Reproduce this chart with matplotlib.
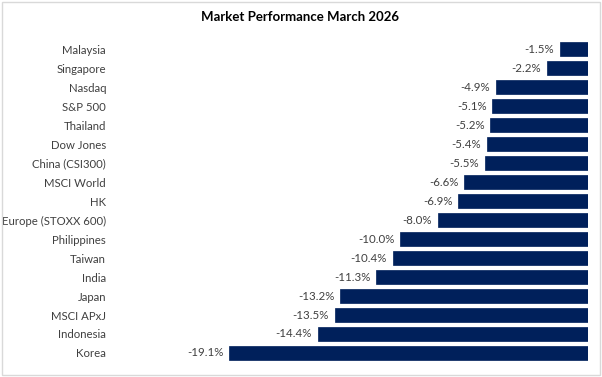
import matplotlib
matplotlib.use("Agg")
import matplotlib.pyplot as plt
from matplotlib.patches import Rectangle

markets = ["Malaysia", "Singapore", "Nasdaq", "S&P 500", "Thailand", "Dow Jones",
           "China (CSI300)", "MSCI World", "HK", "Europe (STOXX 600)", "Philippines",
           "Taiwan", "India", "Japan", "MSCI APxJ", "Indonesia", "Korea"]
returns = [-1.5, -2.2, -4.9, -5.1, -5.2, -5.4, -5.5, -6.6, -6.9, -8.0, -10.0,
           -10.4, -11.3, -13.2, -13.5, -14.4, -19.1]
title = "Market Performance March 2026"

plt.rcParams['font.family'] = ['Lato', 'DejaVu Sans']

fig = plt.figure(figsize=(6.02, 3.77), dpi=100)
fig.patches.append(Rectangle((0.003, 0.004), 0.994, 0.99, transform=fig.transFigure,
                             fill=False, edgecolor="#d9d9d9", linewidth=1.0))
ax = fig.add_axes([0.1877, 0.0385, 0.789, 0.8565])

y = list(range(len(markets)))
ax.barh(y, returns, height=0.73, color="#00205B", edgecolor="#00205B", linewidth=0.5)
for yi, v in zip(y, returns):
    ax.text(v - 0.3, yi, f"{v:.1f}%", ha="right", va="center", fontsize=8.3, color="#404040")

ax.set_yticks(y)
ax.set_yticklabels(markets, fontsize=8.2, color="#404040")
ax.tick_params(axis="y", length=0, pad=5)
ax.set_xticks([])
ax.set_xlim(-25.3, 0)
ax.set_ylim(len(markets) - 0.5, -0.5)
for s in ax.spines.values():
    s.set_visible(False)

fig.text(0.498, 0.955, title, ha="center", va="center", fontsize=9.5, fontweight="bold", color="#000000")

fig.savefig("out.png", dpi=100)
